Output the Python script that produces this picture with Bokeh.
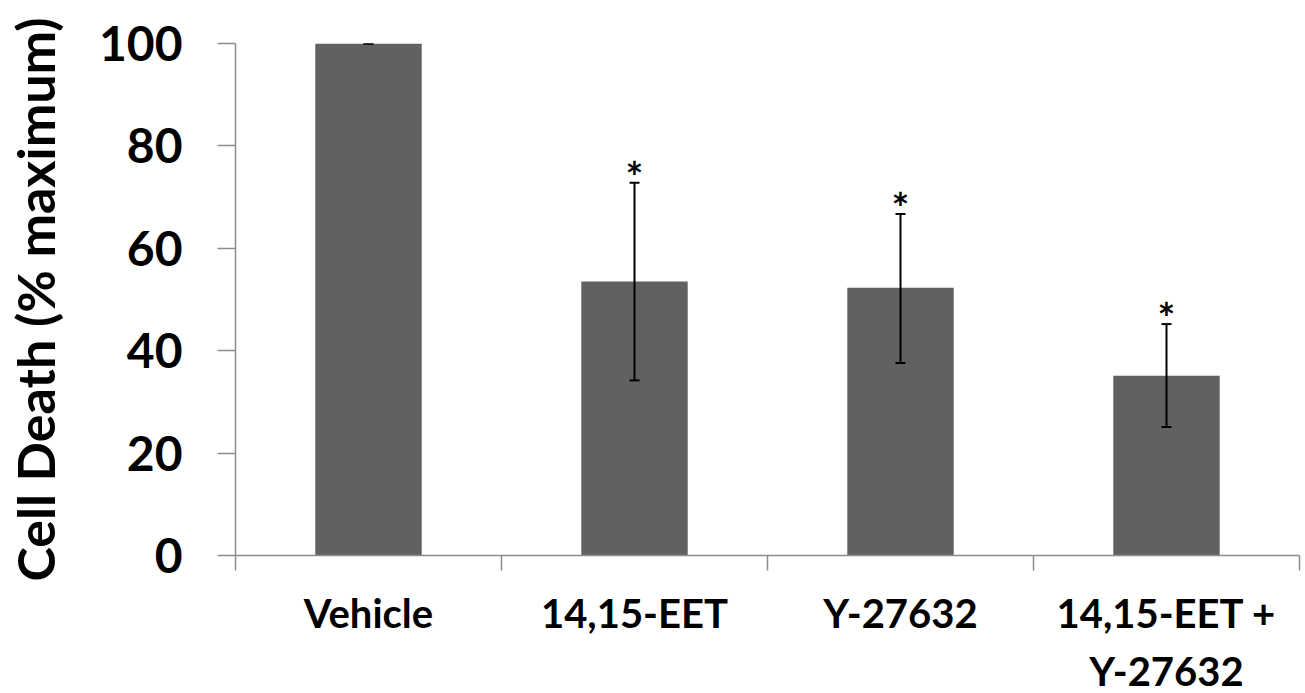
from bokeh.plotting import figure
from bokeh.models import Range1d, FixedTicker, LinearAxis, ColumnDataSource, Whisker, TeeHead
from bokeh.core.properties import value
from bokeh.embed import file_html
from bokeh.resources import INLINE

categories = ["Vehicle", "14,15-EET", "Y-27632", "14,15-EET +\nY-27632"]
means = [100.0, 53.5, 52.3, 35.1]
upper = [100.0, 72.8, 66.7, 45.2]
lower = [100.0, 34.2, 37.6, 25.1]
stars = ["", "*", "*", "*"]
y_ticks = [0, 20, 40, 60, 80, 100]

FONT = "Lato"
AXIS_COLOR = "#8c8c8c"

xs = [i + 0.5 for i in range(len(categories))]
src = ColumnDataSource(dict(x=xs, top=means, upper=upper, lower=lower, star=stars))

p = figure(frame_width=1064, frame_height=512, output_backend="svg", toolbar_location=None,
           x_range=Range1d(0, len(categories)), y_range=Range1d(0, 100),
           min_border_left=235, min_border_right=4, min_border_top=43, min_border_bottom=0,
           x_axis_location=None, y_axis_location=None)
p.outline_line_color = None
p.grid.visible = False

p.vbar(x="x", top="top", width=0.4, bottom=0, source=src, fill_color="#616161", line_color=None)

w = Whisker(base="x", upper="upper", lower="lower", source=src, line_color="black", line_width=2,
            level="annotation",
            upper_head=TeeHead(size=10, line_color="black", line_width=2),
            lower_head=TeeHead(size=10, line_color="black", line_width=2))
p.add_layout(w)

p.text(x="x", y="upper", text="star", source=src, text_font=value(FONT), text_font_style="bold",
       text_font_size="42px", text_align="center", text_baseline="alphabetic", y_offset=-6, text_color="black")

# y axis
ya = LinearAxis(ticker=FixedTicker(ticks=y_ticks))
ya.axis_line_color = AXIS_COLOR
ya.axis_line_width = 1.5
ya.major_tick_line_color = AXIS_COLOR
ya.major_tick_line_width = 1.5
ya.major_tick_out = 18
ya.major_tick_in = 0
ya.minor_tick_line_color = None
ya.major_label_standoff = 35
ya.major_label_text_font = FONT
ya.major_label_text_font_style = "bold"
ya.major_label_text_font_size = "48px"
ya.major_label_text_color = "black"
ya.axis_label = "Cell Death (% maximum)"
ya.axis_label_text_font = FONT
ya.axis_label_text_font_style = "bold"
ya.axis_label_text_font_size = "52px"
ya.axis_label_text_color = "black"
ya.axis_label_standoff = 30
p.add_layout(ya, "left")

# x axis line with ticks at category boundaries
xa = LinearAxis(ticker=FixedTicker(ticks=list(range(len(categories) + 1))))
xa.axis_line_color = AXIS_COLOR
xa.axis_line_width = 1.5
xa.major_tick_line_color = AXIS_COLOR
xa.major_tick_line_width = 1.5
xa.major_tick_out = 15
xa.major_tick_in = 0
xa.minor_tick_line_color = None
xa.major_label_text_font_size = "1px"
xa.major_label_text_color = None
xa.major_label_standoff = 0
p.add_layout(xa, "below")

# category labels at the centres
xl = LinearAxis(ticker=FixedTicker(ticks=xs))
xl.axis_line_color = None
xl.major_tick_line_color = None
xl.minor_tick_line_color = None
xl.major_label_overrides = {x: c for x, c in zip(xs, categories)}
xl.major_label_text_font = FONT
xl.major_label_text_font_style = "bold"
xl.major_label_text_font_size = "40px"
xl.major_label_text_line_height = 1.22
xl.major_label_text_color = "black"
xl.major_label_standoff = 12
p.add_layout(xl, "below")

open("out.html", "w").write(file_html(p, INLINE))
